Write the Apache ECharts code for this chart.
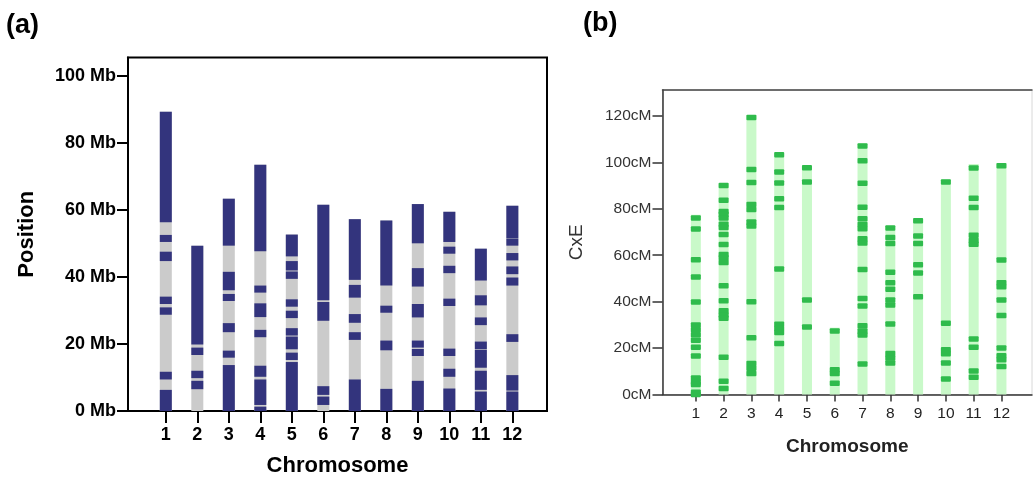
<!DOCTYPE html>
<html>
<head>
<meta charset="utf-8">
<script src="https://cdn.jsdelivr.net/npm/echarts@6/dist/echarts.min.js"></script>
<style>
html,body{margin:0;padding:0;background:#fff;}
#chart{width:1033px;height:484px;}
</style>
</head>
<body>
<div id="chart"></div>
<script>
// ---------- DATA ----------
const chromosomes = [1,2,3,4,5,6,7,8,9,10,11,12];

// (a) physical map: chromosome length (Mb) and dark bands [start, end] in Mb
const physLengths = [89.2, 49.3, 63.3, 73.4, 52.6, 61.5, 57.2, 56.8, 61.7, 59.4, 48.4, 61.2];
const physBands = [
  [[56.3,89.2],[50.4,52.5],[44.7,47.5],[31.9,34.1],[28.7,30.9],[9.4,11.7],[0,6.3]],
  [[19.8,49.3],[16.7,18.9],[9.8,12.0],[6.5,9.0]],
  [[49.3,63.3],[36.0,41.5],[32.8,34.9],[23.5,26.2],[15.9,18.0],[0,13.7]],
  [[47.6,73.4],[35.3,37.4],[28.0,32.1],[22.0,24.2],[10.2,13.5],[1.8,9.4],[0,1.3]],
  [[46.1,52.6],[41.9,44.7],[39.4,41.6],[31.1,33.3],[27.7,29.9],[22.5,24.7],[18.4,22.2],[15.2,17.4],[0,14.6]],
  [[33.0,61.5],[26.9,32.5],[4.8,7.4],[1.8,4.3]],
  [[39.1,57.2],[33.8,37.6],[26.3,28.9],[21.2,23.5],[0,9.4]],
  [[37.4,56.8],[29.3,31.4],[18.1,21.0],[0,6.6]],
  [[50.0,61.7],[37.1,42.6],[27.9,31.9],[18.9,21.0],[16.4,18.5],[0,9.0]],
  [[50.4,59.4],[46.9,49.0],[41.1,43.3],[31.3,33.5],[16.4,18.6],[10.2,12.6],[0,6.7]],
  [[38.9,48.4],[31.5,34.5],[25.6,27.9],[18.4,20.7],[12.9,18.2],[6.3,12.0],[0,5.8]],
  [[51.5,61.2],[49.3,51.4],[44.9,47.1],[40.8,43.1],[37.4,39.8],[20.6,22.9],[6.1,10.7],[0,5.8]]
];
const physTicks = [0,20,40,60,80,100];

// (b) genetic map (CxE): linkage group length (cM) and marker positions (cM)
const geneLengths = [77.4, 91.1, 120.4, 104.3, 98.7, 28.8, 108.3, 72.7, 76.0, 92.7, 99.3, 99.7];
const geneMarkers = [
  [76.1,71.3,58.1,50.6,39.9,29.9,27.9,25.7,23.4,20.4,16.6,7.1,5.3,4.3,1.0,0],
  [90.0,83.7,78.9,77.7,76.1,73.4,72.0,68.9,64.6,60.3,58.9,56.9,46.9,40.4,36.1,34.3,32.9,16.0,5.7,2.6],
  [119.4,96.9,91.3,81.9,79.7,74.3,72.6,40.0,24.4,13.4,11.3,9.0],
  [103.3,95.9,91.1,84.3,80.6,54.1,30.3,28.4,26.7,22.0],
  [97.7,91.6,40.7,29.1],
  [27.4,10.7,9.0,4.9],
  [107.1,100.7,91.0,80.7,75.7,73.3,71.4,67.1,65.3,53.9,41.4,38.1,29.6,27.4,25.6,13.1],
  [71.7,67.7,65.1,52.7,48.1,45.4,40.7,38.6,30.4,17.7,15.7,13.6],
  [74.9,68.3,65.1,55.9,52.4,42.1],
  [91.6,30.7,19.3,17.6,13.6,6.7],
  [97.6,84.6,80.6,68.6,66.4,64.7,23.9,20.4,10.1,7.4],
  [98.6,58.0,48.1,46.4,40.7,34.0,20.0,16.7,15.0,12.1]
];
const geneTicks = [0,20,40,60,80,100,120];

// ---------- BUILD SERIES DATA ----------
const physBgData = chromosomes.map((c,i)=>[c,0,physLengths[i]]);
const physBandData = [];
physBands.forEach((bands,i)=>bands.forEach(b=>physBandData.push([chromosomes[i],b[0],b[1]])));
const geneBgData = chromosomes.map((c,i)=>[c,0,geneLengths[i]]);
const geneMarkerData = [];
geneMarkers.forEach((ms,i)=>ms.forEach(m=>geneMarkerData.push([chromosomes[i],m])));

function spanRender(width, color){
  return function(params, api){
    const x = api.value(0);
    const p0 = api.coord([x, api.value(1)]);
    const p1 = api.coord([x, api.value(2)]);
    return {type:'rect', shape:{x:p0[0]-width/2, y:p1[1], width:width, height:p0[1]-p1[1]},
            style:{fill:color}};
  };
}
function markerRender(width, h, color){
  return function(params, api){
    const p = api.coord([api.value(0), api.value(1)]);
    return {type:'rect', shape:{x:p[0]-width/2, y:p[1]-h/2, width:width, height:h, r:1},
            style:{fill:color}};
  };
}

const FB = 'Liberation Sans, Arial, Helvetica, sans-serif';
const chart = echarts.init(document.getElementById('chart'), null, {renderer:'canvas'});

const option = {
  animation:false,
  backgroundColor:'#fff',
  graphic:[
    {type:'text', left:6, top:12, style:{text:'(a)', font:'bold 27px '+FB, fill:'#000'}},
    {type:'text', left:583, top:10, style:{text:'(b)', font:'bold 27px '+FB, fill:'#000'}}
  ],
  grid:[
    {left:128, right:486, top:57.5, bottom:73, show:true, borderColor:'#000', borderWidth:2},
    {left:662.5, right:1, top:90, bottom:89.5, show:true, borderColor:'#d8d8d8', borderWidth:1}
  ],
  xAxis:[
    {type:'value', gridIndex:0, min:-0.2, max:13.1,
     splitLine:{show:false},
     axisLine:{show:true, onZero:false, lineStyle:{color:'#000', width:2}},
     axisTick:{show:true, length:12, customValues:chromosomes, lineStyle:{color:'#000', width:2}},
     axisLabel:{customValues:chromosomes, margin:15, fontSize:18, fontWeight:'bold', fontFamily:FB, color:'#000'},
     name:'Chromosome', nameLocation:'middle', nameGap:44,
     nameTextStyle:{fontSize:22, fontWeight:'bold', fontFamily:FB, color:'#000'}},
    {type:'value', gridIndex:1, min:-0.2, max:13.1,
     splitLine:{show:false},
     axisLine:{show:true, onZero:false, lineStyle:{color:'#333', width:1.5}},
     axisTick:{show:true, length:7, customValues:chromosomes, lineStyle:{color:'#333', width:1.5}},
     axisLabel:{customValues:chromosomes, margin:11, fontSize:15.5, fontFamily:FB, color:'#222'},
     name:'Chromosome', nameLocation:'middle', nameGap:43,
     nameTextStyle:{fontSize:19, fontWeight:'bold', fontFamily:FB, color:'#222'}},
    {type:'value', gridIndex:1, position:'top', min:-0.2, max:13.1,
     splitLine:{show:false}, axisTick:{show:false}, axisLabel:{show:false},
     axisLine:{show:true, onZero:false, lineStyle:{color:'#444', width:1.5}}}
  ],
  yAxis:[
    {type:'value', gridIndex:0, min:0, max:105.4,
     splitLine:{show:false},
     axisLine:{show:true, onZero:false, lineStyle:{color:'#000', width:2}},
     axisTick:{show:true, length:11, customValues:physTicks, lineStyle:{color:'#000', width:2}},
     axisLabel:{customValues:physTicks, margin:12, fontSize:18, fontWeight:'bold', fontFamily:FB, color:'#000',
                formatter:v=>v+' Mb'},
     name:'Position', nameLocation:'middle', nameGap:90, nameRotate:90,
     nameTextStyle:{fontSize:22, fontWeight:'bold', fontFamily:FB, color:'#000'}},
    {type:'value', gridIndex:1, min:0, max:131.2,
     splitLine:{show:false},
     axisLine:{show:true, onZero:false, lineStyle:{color:'#333', width:1.5}},
     axisTick:{show:true, length:10, customValues:geneTicks, lineStyle:{color:'#333', width:1.5}},
     axisLabel:{customValues:geneTicks, margin:11, fontSize:15.5, fontFamily:FB, color:'#333',
                formatter:v=>v+'cM'},
     name:'CxE', nameLocation:'middle', nameGap:76, nameRotate:90,
     nameTextStyle:{fontSize:19, fontFamily:FB, color:'#333'}}
  ],
  series:[
    {type:'custom', xAxisIndex:0, yAxisIndex:0, renderItem:spanRender(12,'#cbcbcb'), data:physBgData, z:2},
    {type:'custom', xAxisIndex:0, yAxisIndex:0, renderItem:spanRender(12,'#33347d'), data:physBandData, z:3},
    {type:'custom', xAxisIndex:1, yAxisIndex:1, renderItem:spanRender(10,'#c9f9c9'), data:geneBgData, z:2},
    {type:'custom', xAxisIndex:1, yAxisIndex:1, renderItem:markerRender(10,5.5,'#2fbb4c'), data:geneMarkerData, z:3}
  ]
};
chart.setOption(option);
</script>
</body>
</html>
